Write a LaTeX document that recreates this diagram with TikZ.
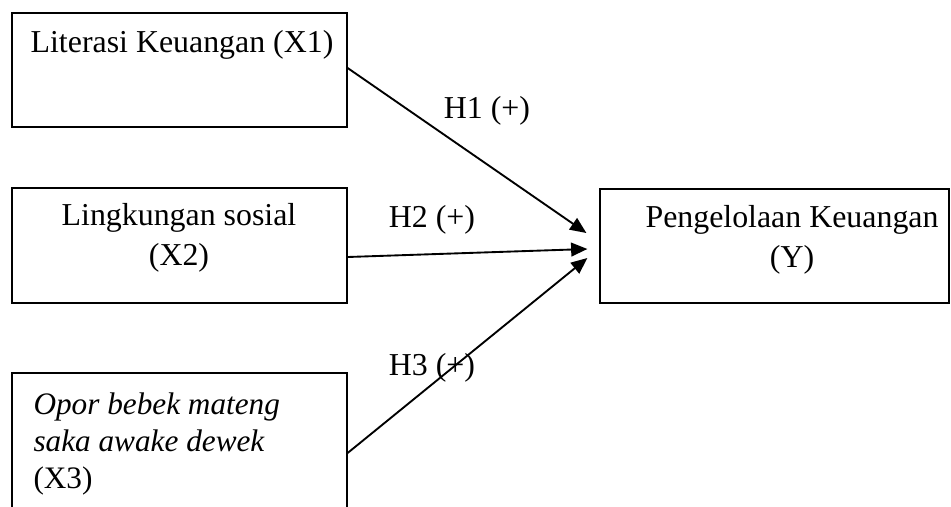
\documentclass[tikz,border=0pt]{standalone}
\usepackage{fontspec}
\setmainfont{Liberation Serif}
\usetikzlibrary{arrows.meta}

\begin{document}
\begin{tikzpicture}[x=0.4pt, y=-0.4pt,
        varbox/.style={shape=rectangle, draw, line width=0.5pt, inner sep=0pt},
        lbl/.style={font=\fontsize{12.75}{16}\selectfont, inner sep=0pt},
        hyp/.style={-{Triangle[length=6.5pt, width=5.5pt]}, line width=0.75pt}]
        % Boxes and texts:
        \useasboundingbox (0, 0) rectangle (951, 506);
        \node[varbox, minimum width=134pt, minimum height=45.6pt](X1) at (179.5, 70){};
        \node[varbox, minimum width=134pt, minimum height=46pt](X2) at (179.5, 245.5){};
        \node[varbox, minimum width=134pt, minimum height=58.8pt](X3) at (179.5, 446.5){};
        \node[varbox, minimum width=139.6pt, minimum height=45.6pt](Y) at (774.5, 246){};
        \node[lbl, anchor=base](T1) at (182, 53){Literasi Keuangan (X1)};
        \node[lbl, anchor=base, align=center](T2) at (179, 265){Lingkungan sosial\\(X2)};
        \node[lbl, anchor=base west, align=left, font=\fontsize{12.5}{14.8}\selectfont](T3) at (33, 488){\textit{Opor bebek mateng}\\\textit{saka awake dewek}\\(X3)};
        \node[lbl, anchor=base, align=center](TY) at (792, 267){Pengelolaan Keuangan\\(Y)};
        % Hypotheses:
        \draw[hyp] ([yshift=0.8pt]X1.east) -- ([xshift=-5.2pt, yshift=5.2pt]Y.west);
        \draw[hyp] ([yshift=-4.6pt]X2.east) -- ([xshift=-4.8pt, yshift=-1.2pt]Y.west);
        \draw[hyp] ([yshift=-2.6pt]X3.east) -- ([xshift=-4.8pt, yshift=-4.8pt]Y.west);
        \node[lbl, anchor=base](H1) at (487, 118){H1 (+)};
        \node[lbl, anchor=base](H2) at (432, 227){H2 (+)};
        \node[lbl, anchor=base](H3) at (432, 375){H3 (+)};
\end{tikzpicture}
\end{document}
